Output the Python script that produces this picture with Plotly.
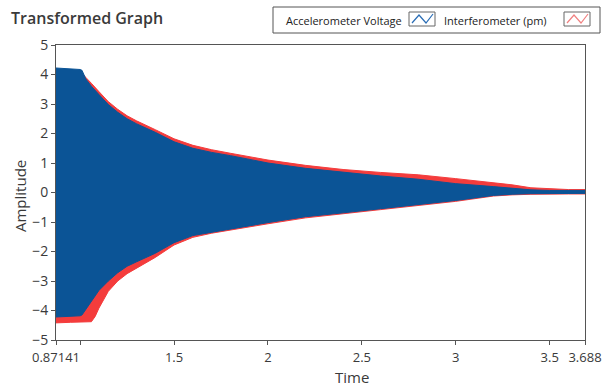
import plotly.graph_objects as go

# ---- data (envelopes of the dense oscillating signals) ----
time = [0.87141, 0.95, 1.0, 1.01, 1.02, 1.03, 1.06, 1.08, 1.1, 1.15, 1.2, 1.25, 1.3,
        1.4, 1.5, 1.6, 1.7, 1.8, 2.0, 2.2, 2.4, 2.6, 2.8, 3.0, 3.2, 3.3, 3.4, 3.5,
        3.6, 3.688]

interf_upper = [4.1, 4.1, 4.1, 4.05, 3.97, 3.9, 3.7, 3.55, 3.42, 3.08, 2.82, 2.6, 2.43,
                2.13, 1.82, 1.6, 1.45, 1.33, 1.1, 0.92, 0.78, 0.68, 0.6, 0.47, 0.33,
                0.26, 0.16, 0.12, 0.1, 0.1]
interf_lower = [-4.42, -4.4, -4.38, -4.38, -4.38, -4.38, -4.38, -4.2, -3.92, -3.35, -3.0,
                -2.75, -2.56, -2.2, -1.78, -1.52, -1.38, -1.28, -1.06, -0.86, -0.72,
                -0.58, -0.45, -0.3, -0.12, -0.08, -0.06, -0.05, -0.05, -0.05]

accel_upper = [4.22, 4.2, 4.17, 4.14, 4.0, 3.85, 3.6, 3.45, 3.32, 2.98, 2.72, 2.5, 2.33,
               2.04, 1.72, 1.5, 1.36, 1.25, 1.0, 0.82, 0.68, 0.56, 0.45, 0.3, 0.2, 0.14,
               0.09, 0.07, 0.07, 0.07]
accel_lower = [-4.22, -4.2, -4.18, -4.15, -4.05, -3.95, -3.7, -3.5, -3.32, -3.0, -2.72,
               -2.5, -2.35, -2.06, -1.7, -1.46, -1.33, -1.23, -1.02, -0.82, -0.69, -0.55,
               -0.42, -0.27, -0.1, -0.06, -0.04, -0.03, -0.03, -0.03]

x_tickvals = [0.87141, 1.0, 1.5, 2.0, 2.5, 3.0, 3.5, 3.688]
x_ticktext = ["0.87141", "", "1.5", "2", "2.5", "3", "3.5", "3.688"]
y_tickvals = [5, 4, 3, 2, 1, 0, -1, -2, -3, -4, -5]

series_names = ["Accelerometer Voltage", "Interferometer (pm)"]

BLUE = "#0b5496"
RED = "#f43c3c"
TXT = "#3a3a3a"
FONT = "Open Sans"

W, H = 605, 387
# plot area in window pixels: x 56..585, y 45..340
L, R, T, B = 56, W - 585, 45, H - 340
PW, PH = W - L - R, H - T - B


def px(x):
    """window pixel x -> paper"""
    return (x - L) / PW


def py(y):
    """window pixel y -> paper"""
    return (H - B - y) / PH


fig = go.Figure()


def band(upper, lower, color, name):
    xs = list(time) + list(reversed(time))
    ys = list(upper) + list(reversed(lower))
    fig.add_trace(go.Scatter(x=xs, y=ys, fill="toself", fillcolor=color,
                             mode="lines", line=dict(color=color, width=1),
                             name=name, showlegend=False, hoverinfo="skip"))


band(interf_upper, interf_lower, RED, series_names[1])
band(accel_upper, accel_lower, BLUE, series_names[0])

shapes = []
annotations = []

# legend box (LabVIEW style)
shapes.append(dict(type="rect", xref="paper", yref="paper",
                   x0=px(273), x1=px(600), y0=py(33), y1=py(7),
                   line=dict(color="#555555", width=1), fillcolor="white", layer="above"))
annotations.append(dict(text=series_names[0], xref="paper", yref="paper",
                        x=px(284), y=py(20), xanchor="left", yanchor="middle",
                        showarrow=False, font=dict(family=FONT, size=11, color="#222222")))
annotations.append(dict(text=series_names[1], xref="paper", yref="paper",
                        x=px(442), y=py(20), xanchor="left", yanchor="middle",
                        showarrow=False, font=dict(family=FONT, size=11, color="#222222")))


def icon(x0, color):
    shapes.append(dict(type="rect", xref="paper", yref="paper",
                       x0=px(x0), x1=px(x0 + 26), y0=py(26), y1=py(12),
                       line=dict(color="#666666", width=1), fillcolor="white"))
    pts = [(x0 + 3, 23), (x0 + 10, 15), (x0 + 17, 23), (x0 + 24, 14)]
    path = "M " + " L ".join(f"{px(a):.5f},{py(b):.5f}" for a, b in pts)
    shapes.append(dict(type="path", xref="paper", yref="paper", path=path,
                       line=dict(color=color, width=1.2)))


icon(409, "#2a6db5")
icon(564, "#f08080")

# title
annotations.append(dict(text="Transformed Graph", xref="paper", yref="paper",
                        x=px(9), y=py(18), xanchor="left", yanchor="middle",
                        showarrow=False,
                        font=dict(family=FONT, size=16, color=TXT, weight=600)))
# axis titles
annotations.append(dict(text="Time", xref="paper", yref="paper",
                        x=px(352), y=py(377), xanchor="center", yanchor="middle",
                        showarrow=False, font=dict(family=FONT, size=15, color=TXT)))
annotations.append(dict(text="Amplitude", xref="paper", yref="paper",
                        x=px(20), y=py(196), xanchor="center", yanchor="middle",
                        textangle=-90, showarrow=False,
                        font=dict(family=FONT, size=15, color=TXT)))

fig.update_layout(
    width=W, height=H,
    margin=dict(l=L, r=R, t=T, b=B, autoexpand=False),
    paper_bgcolor="white", plot_bgcolor="white",
    showlegend=False,
    shapes=shapes, annotations=annotations,
    font=dict(family=FONT, color=TXT, size=14),
    xaxis=dict(range=[0.87141, 3.688], tickvals=x_tickvals, ticktext=x_ticktext,
               ticks="outside", ticklen=4, tickcolor="#555555", automargin=False,
               ticklabelstandoff=1,
               showgrid=False, zeroline=False, showline=True, linecolor="#555555",
               linewidth=1, mirror=True,
               tickfont=dict(family=FONT, size=13, color=TXT)),
    yaxis=dict(range=[-5, 5], tickvals=y_tickvals, automargin=False,
               ticks="outside", ticklen=4, tickcolor="#555555",
               showgrid=False, zeroline=False, showline=True, linecolor="#555555",
               linewidth=1, mirror=True,
               tickfont=dict(family=FONT, size=14, color=TXT)),
)

# remove the browser's default 8px body margin so the 605x387 figure fills the window
fig.write_html("out.html",
               config={"displayModeBar": False},
               post_script="document.body.style.margin='0';"
                           "document.body.style.overflow='hidden';")
